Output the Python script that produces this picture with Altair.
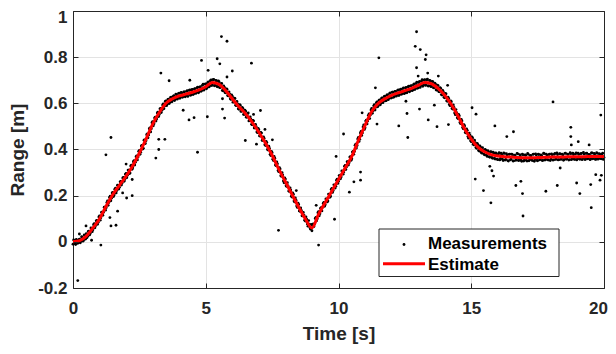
import altair as alt
import pandas as pd

# ---------------- data ----------------
# dense measurements, first set: one every 0.05 s from t = 0 to t = 20
BAND_STEP = 0.05
BAND_Y = [
    -0.010, 0.004, -0.012, 0.006, -0.004,
    0.012, 0.002, 0.020, 0.008, 0.013,
    0.035, 0.024, 0.046, 0.036, 0.058,
    0.052, 0.079, 0.070, 0.093, 0.085,
    0.112, 0.104, 0.125, 0.128, 0.150,
    0.148, 0.177, 0.170, 0.198, 0.189,
    0.214, 0.203, 0.232, 0.222, 0.244,
    0.236, 0.262, 0.255, 0.279, 0.270,
    0.296, 0.288, 0.310, 0.298, 0.332,
    0.321, 0.352, 0.345, 0.372, 0.367,
    0.396, 0.388, 0.418, 0.405, 0.441,
    0.438, 0.468, 0.463, 0.494, 0.490,
    0.521, 0.512, 0.540, 0.532, 0.562,
    0.552, 0.578, 0.570, 0.597, 0.588,
    0.611, 0.596, 0.618, 0.605, 0.627,
    0.613, 0.633, 0.618, 0.637, 0.624,
    0.644, 0.627, 0.645, 0.630, 0.650,
    0.633, 0.655, 0.640, 0.658, 0.637,
    0.660, 0.642, 0.664, 0.648, 0.670,
    0.650, 0.672, 0.657, 0.683, 0.664,
    0.684, 0.668, 0.693, 0.676, 0.701,
    0.680, 0.704, 0.678, 0.698, 0.672,
    0.694, 0.669, 0.686, 0.654, 0.670,
    0.646, 0.661, 0.632, 0.641, 0.617,
    0.631, 0.606, 0.621, 0.590, 0.598,
    0.574, 0.592, 0.566, 0.578, 0.552,
    0.566, 0.540, 0.558, 0.528, 0.531,
    0.507, 0.524, 0.498, 0.499, 0.473,
    0.486, 0.458, 0.471, 0.444, 0.448,
    0.417, 0.430, 0.398, 0.405, 0.374,
    0.386, 0.352, 0.362, 0.330, 0.338,
    0.304, 0.316, 0.284, 0.290, 0.256,
    0.272, 0.240, 0.242, 0.219, 0.225,
    0.194, 0.206, 0.173, 0.180, 0.149,
    0.162, 0.132, 0.136, 0.113, 0.116,
    0.090, 0.098, 0.068, 0.077, 0.055,
    0.048, 0.078, 0.077, 0.106, 0.100,
    0.131, 0.122, 0.148, 0.150, 0.171,
    0.161, 0.185, 0.177, 0.205, 0.198,
    0.231, 0.222, 0.246, 0.241, 0.272,
    0.262, 0.287, 0.281, 0.305, 0.302,
    0.331, 0.324, 0.346, 0.343, 0.369,
    0.360, 0.392, 0.391, 0.423, 0.417,
    0.452, 0.444, 0.478, 0.472, 0.506,
    0.494, 0.527, 0.523, 0.554, 0.549,
    0.578, 0.568, 0.594, 0.583, 0.606,
    0.590, 0.615, 0.601, 0.624, 0.610,
    0.631, 0.612, 0.637, 0.622, 0.645,
    0.624, 0.648, 0.630, 0.652, 0.636,
    0.658, 0.638, 0.661, 0.645, 0.667,
    0.645, 0.669, 0.652, 0.674, 0.655,
    0.677, 0.658, 0.684, 0.664, 0.692,
    0.668, 0.695, 0.677, 0.702, 0.680,
    0.703, 0.679, 0.705, 0.676, 0.698,
    0.673, 0.694, 0.668, 0.684, 0.657,
    0.677, 0.650, 0.665, 0.636, 0.649,
    0.624, 0.641, 0.609, 0.621, 0.590,
    0.607, 0.575, 0.582, 0.551, 0.560,
    0.534, 0.546, 0.512, 0.524, 0.490,
    0.502, 0.472, 0.483, 0.449, 0.462,
    0.434, 0.450, 0.420, 0.430, 0.405,
    0.421, 0.393, 0.410, 0.384, 0.398,
    0.377, 0.396, 0.370, 0.389, 0.366,
    0.390, 0.362, 0.384, 0.359, 0.381,
    0.356, 0.386, 0.361, 0.379, 0.352,
    0.383, 0.357, 0.376, 0.350, 0.380,
    0.358, 0.378, 0.351, 0.374, 0.355,
    0.381, 0.353, 0.372, 0.349, 0.377,
    0.354, 0.375, 0.350, 0.379, 0.356,
    0.373, 0.352, 0.380, 0.357, 0.376,
    0.351, 0.378, 0.358, 0.374, 0.353,
    0.382, 0.357, 0.376, 0.354, 0.380,
    0.358, 0.377, 0.355, 0.383, 0.359,
    0.378, 0.356, 0.381, 0.360, 0.376,
    0.357, 0.384, 0.359, 0.379, 0.356,
    0.382, 0.361, 0.378, 0.357, 0.385,
    0.360, 0.379, 0.358, 0.383, 0.362,
    0.380, 0.357, 0.384, 0.361, 0.378,
    0.359, 0.385, 0.362, 0.381, 0.358,
    0.383, 0.361, 0.379, 0.360, 0.384,
    0.365,
]

# dense measurements, second set: one every 0.05 s from t = 0.025 to t = 19.975
BAND2_START = 0.025
BAND2_Y = [
    0.008, -0.008, 0.010, -0.006, 0.009,
    -0.004, 0.022, 0.003, 0.030, 0.012,
    0.018, 0.045, 0.030, 0.060, 0.044,
    0.074, 0.061, 0.091, 0.076, 0.108,
    0.094, 0.128, 0.115, 0.150, 0.137,
    0.170, 0.158, 0.192, 0.178, 0.212,
    0.196, 0.228, 0.212, 0.245, 0.229,
    0.260, 0.246, 0.277, 0.262, 0.293,
    0.278, 0.311, 0.296, 0.329, 0.314,
    0.347, 0.333, 0.369, 0.355, 0.392,
    0.379, 0.415, 0.402, 0.440, 0.426,
    0.464, 0.451, 0.490, 0.476, 0.516,
    0.503, 0.537, 0.523, 0.558, 0.543,
    0.576, 0.560, 0.593, 0.577, 0.608,
    0.590, 0.617, 0.599, 0.626, 0.607,
    0.630, 0.612, 0.640, 0.618, 0.643,
    0.622, 0.647, 0.626, 0.649, 0.628,
    0.652, 0.630, 0.656, 0.635, 0.659,
    0.638, 0.663, 0.643, 0.668, 0.646,
    0.670, 0.652, 0.678, 0.657, 0.683,
    0.663, 0.690, 0.671, 0.698, 0.677,
    0.702, 0.676, 0.699, 0.673, 0.697,
    0.668, 0.685, 0.656, 0.675, 0.647,
    0.663, 0.634, 0.650, 0.620, 0.636,
    0.605, 0.622, 0.592, 0.608, 0.577,
    0.594, 0.565, 0.582, 0.552, 0.570,
    0.540, 0.556, 0.524, 0.541, 0.509,
    0.526, 0.493, 0.509, 0.476, 0.491,
    0.459, 0.474, 0.439, 0.455, 0.421,
    0.435, 0.400, 0.414, 0.379, 0.392,
    0.358, 0.370, 0.333, 0.346, 0.309,
    0.321, 0.286, 0.300, 0.264, 0.277,
    0.243, 0.256, 0.220, 0.234, 0.198,
    0.212, 0.177, 0.190, 0.155, 0.168,
    0.134, 0.147, 0.113, 0.127, 0.094,
    0.108, 0.077, 0.092, 0.061, 0.075,
    0.070, 0.066, 0.101, 0.091, 0.126,
    0.113, 0.146, 0.134, 0.166, 0.154,
    0.186, 0.173, 0.207, 0.193, 0.227,
    0.214, 0.247, 0.233, 0.267, 0.253,
    0.287, 0.273, 0.307, 0.293, 0.327,
    0.313, 0.347, 0.333, 0.367, 0.353,
    0.389, 0.379, 0.418, 0.406, 0.446,
    0.435, 0.472, 0.461, 0.498, 0.487,
    0.523, 0.511, 0.548, 0.534, 0.571,
    0.557, 0.589, 0.571, 0.602, 0.585,
    0.613, 0.594, 0.622, 0.603, 0.630,
    0.611, 0.636, 0.616, 0.643, 0.623,
    0.648, 0.626, 0.652, 0.631, 0.656,
    0.634, 0.659, 0.639, 0.664, 0.642,
    0.667, 0.646, 0.672, 0.650, 0.676,
    0.655, 0.681, 0.660, 0.686, 0.665,
    0.690, 0.669, 0.696, 0.674, 0.700,
    0.678, 0.701, 0.675, 0.699, 0.673,
    0.695, 0.667, 0.687, 0.659, 0.679,
    0.651, 0.668, 0.638, 0.656, 0.626,
    0.643, 0.611, 0.627, 0.595, 0.611,
    0.578, 0.593, 0.558, 0.573, 0.538,
    0.552, 0.517, 0.530, 0.495, 0.508,
    0.474, 0.489, 0.456, 0.471, 0.438,
    0.454, 0.423, 0.440, 0.409, 0.426,
    0.396, 0.416, 0.388, 0.408, 0.380,
    0.400, 0.375, 0.395, 0.369, 0.391,
    0.366, 0.388, 0.361, 0.385, 0.358,
    0.381, 0.355, 0.384, 0.358, 0.385,
    0.354, 0.382, 0.352, 0.379, 0.355,
    0.380, 0.350, 0.376, 0.353, 0.383,
    0.352, 0.378, 0.355, 0.380, 0.350,
    0.377, 0.353, 0.383, 0.351, 0.374,
    0.355, 0.379, 0.349, 0.381, 0.353,
    0.380, 0.355, 0.377, 0.352, 0.384,
    0.354, 0.380, 0.356, 0.378, 0.352,
    0.381, 0.354, 0.379, 0.357, 0.385,
    0.355, 0.382, 0.357, 0.380, 0.353,
    0.383, 0.358, 0.380, 0.354, 0.386,
    0.356, 0.384, 0.358, 0.381, 0.355,
    0.384, 0.359, 0.382, 0.356, 0.387,
    0.357, 0.383, 0.360, 0.379, 0.356,
    0.385, 0.360, 0.383, 0.357, 0.386,
    0.358, 0.382, 0.361, 0.380, 0.357,
]

# outlying measurements (time, range)
OUT_T = [0.18, 0.24, 0.49, 0.70, 1.05, 1.24, 1.43, 1.39, 1.43, 1.62,
         1.68, 1.87, 2.02, 2.23, 2.23, 2.00, 3.12, 3.23, 3.46, 3.23,
         3.31, 3.62, 4.15, 4.37, 4.56, 4.40, 4.69, 4.84, 5.06, 5.09,
         5.59, 5.80, 5.43, 5.53, 6.00, 6.72, 5.80, 5.63, 5.63, 5.71,
         7.06, 6.80, 7.23, 7.51, 6.49, 6.91, 7.74, 8.41, 9.25, 9.16,
         9.85, 10.19, 9.91, 10.41, 10.58, 10.83, 10.83, 10.89, 11.45, 11.52,
         11.39, 12.27, 12.61, 12.58, 12.94, 12.89, 13.08, 13.30, 13.27, 12.94,
         13.00, 13.36, 13.76, 14.11, 12.54, 13.05, 13.61, 13.38, 13.71, 14.14,
         15.03, 15.18, 15.89, 16.34, 16.59, 18.08, 15.15, 15.46, 15.74, 15.70,
         15.78, 15.84, 16.68, 16.87, 16.93, 16.95, 17.81, 18.24, 18.35, 18.75,
         18.75, 18.77, 19.03, 19.44, 18.97, 19.09, 19.50, 19.52, 19.69, 19.85,
         19.90, 19.88]
OUT_Y = [-0.168, 0.034, 0.069, 0.007, -0.014, 0.377, 0.452, 0.105, 0.069, 0.072,
         0.133, 0.212, 0.190, 0.200, 0.270, 0.337, 0.363, 0.400, 0.444, 0.444,
         0.731, 0.698, 0.570, 0.528, 0.538, 0.700, 0.388, 0.786, 0.542, 0.743,
         0.889, 0.869, 0.793, 0.771, 0.740, 0.774, 0.714, 0.620, 0.575, 0.536,
         0.569, 0.552, 0.487, 0.442, 0.439, 0.423, 0.050, 0.222, -0.014, 0.158,
         0.098, 0.467, 0.370, 0.215, 0.260, 0.267, 0.302, 0.559, 0.510, 0.797,
         0.667, 0.502, 0.452, 0.556, 0.910, 0.847, 0.833, 0.810, 0.790, 0.754,
         0.718, 0.731, 0.718, 0.678, 0.609, 0.575, 0.592, 0.528, 0.499, 0.508,
         0.581, 0.553, 0.502, 0.456, 0.477, 0.606, 0.272, 0.222, 0.169, 0.327,
         0.308, 0.285, 0.244, 0.262, 0.209, 0.112, 0.219, 0.244, 0.320, 0.496,
         0.456, 0.420, 0.434, 0.420, 0.255, 0.209, 0.248, 0.148, 0.291, 0.267,
         0.288, 0.549]

# filter estimate, one value every 0.25 s
EST_STEP = 0.25
EST_Y = [0.000, 0.005, 0.025, 0.060, 0.100, 0.155, 0.205, 0.245, 0.285, 0.330,
         0.385, 0.445, 0.510, 0.560, 0.600, 0.620, 0.632, 0.640, 0.648, 0.658,
         0.672, 0.690, 0.682, 0.655, 0.620, 0.585, 0.555, 0.518, 0.475, 0.428,
         0.375, 0.315, 0.260, 0.205, 0.150, 0.100, 0.060, 0.120, 0.170, 0.220,
         0.270, 0.320, 0.370, 0.440, 0.505, 0.565, 0.600, 0.620, 0.635, 0.645,
         0.655, 0.665, 0.678, 0.690, 0.685, 0.665, 0.635, 0.595, 0.545, 0.490,
         0.445, 0.410, 0.390, 0.378, 0.372, 0.369, 0.367, 0.365, 0.364, 0.364,
         0.365, 0.366, 0.367, 0.368, 0.368, 0.369, 0.369, 0.369, 0.370, 0.370,
         0.370]

X_TICKS = [0, 5, 10, 15, 20]
Y_TICKS = [-0.2, 0, 0.2, 0.4, 0.6, 0.8, 1]
LEGEND_LABELS = ["Measurements", "Estimate"]

# ---------------- tables ----------------
meas = pd.DataFrame({
    "t": [round(i * BAND_STEP, 3) for i in range(len(BAND_Y))]
         + [round(BAND2_START + i * BAND_STEP, 3) for i in range(len(BAND2_Y))]
         + OUT_T,
    "y": BAND_Y + BAND2_Y + OUT_Y,
})
est = pd.DataFrame({
    "t": [round(i * EST_STEP, 2) for i in range(len(EST_Y))],
    "y": EST_Y,
})

FONT = "Liberation Sans"
INK = "#262626"
GRID = "#e3e3e3"
xs = alt.Scale(domain=[0, 20], nice=False, zero=False)
ys = alt.Scale(domain=[-0.2, 1], nice=False, zero=False)

Y_LABEL_EXPR = ("datum.value < 0 ? '-' + format(-datum.value, '.1f') : "
                "(abs(datum.value) < 1e-9 || datum.value == 1) ? format(datum.value, 'd') : "
                "format(datum.value, '.1f')")

x_main = alt.Axis(orient="bottom", values=X_TICKS, title="Time [s]", grid=True,
                  gridColor=GRID, gridWidth=1, ticks=False, tickSize=0, domain=True,
                  domainColor=INK, domainWidth=1, labelFont=FONT,
                  labelFontWeight="bold", labelFontSize=17, labelColor=INK,
                  labelPadding=12, labelFlush=False, labelOverlap=False,
                  labelOffset={"condition": {"test": "datum.value == 20", "value": -6},
                               "value": 0},
                  format="d", titleFont=FONT, titleFontWeight="bold",
                  titleFontSize=19, titleColor=INK, titlePadding=8)
y_main = alt.Axis(orient="left", values=Y_TICKS, title="Range [m]", grid=True,
                  gridColor=GRID, gridWidth=1, ticks=False, tickSize=0, domain=True,
                  domainColor=INK, domainWidth=1, labelFont=FONT,
                  labelFontWeight="bold", labelFontSize=17, labelColor=INK,
                  labelPadding=6, labelFlush=False, labelOverlap=False,
                  labelOffset={"condition": {"test": "datum.value == 1", "value": 6},
                               "value": 0},
                  labelExpr=Y_LABEL_EXPR, titleFont=FONT, titleFontWeight="bold",
                  titleFontSize=19, titleColor=INK, titlePadding=10)


def tick_axis(orient, values):
    return alt.Axis(orient=orient, values=values, offset=-5, ticks=True, tickSize=5,
                    tickColor=INK, tickWidth=1, domain=False, labels=False,
                    grid=False, title="", zindex=1)


def box_axis(orient, values):
    return alt.Axis(orient=orient, values=values, ticks=False, domain=True,
                    domainColor=INK, domainWidth=1, labels=False, grid=False,
                    title="", zindex=1)


points = alt.Chart(meas).mark_circle(size=8, color="black", opacity=1).encode(
    x=alt.X("t:Q", scale=xs, axis=x_main),
    y=alt.Y("y:Q", scale=ys, axis=y_main),
)

line = alt.Chart(est).mark_line(color="#ff0000", strokeWidth=3,
                                interpolate="monotone").encode(
    x=alt.X("t:Q", scale=xs, axis=tick_axis("bottom", X_TICKS)),
    y=alt.Y("y:Q", scale=ys, axis=tick_axis("left", Y_TICKS)),
)

box = alt.Chart(est).mark_line(opacity=0).encode(
    x=alt.X("t:Q", scale=xs, axis=box_axis("top", X_TICKS)),
    y=alt.Y("y:Q", scale=ys, axis=box_axis("right", Y_TICKS)),
)

box_ticks = alt.Chart(est).mark_line(opacity=0).encode(
    x=alt.X("t:Q", scale=xs, axis=tick_axis("top", X_TICKS)),
    y=alt.Y("y:Q", scale=ys, axis=tick_axis("right", Y_TICKS)),
)

# ---------------- legend (drawn in the plot's pixel frame) ----------------
leg1 = pd.DataFrame({"label": [LEGEND_LABELS[0]]})
leg2 = pd.DataFrame({"label": [LEGEND_LABELS[1]]})

leg_frame = alt.Chart(leg1).mark_rect(fill="white", stroke=INK, strokeWidth=1).encode(
    x=alt.value(306), x2=alt.value(486), y=alt.value(218), y2=alt.value(265.5))
leg_dot = alt.Chart(leg1).mark_circle(size=8, color="black", opacity=1).encode(
    x=alt.value(331), y=alt.value(233.5))
leg_line = alt.Chart(leg2).mark_rule(color="#ff0000", strokeWidth=3).encode(
    x=alt.value(310), x2=alt.value(352), y=alt.value(252.7))
leg_txt1 = alt.Chart(leg1).mark_text(align="left", baseline="alphabetic", font=FONT,
                                     fontWeight="bold", fontSize=17, color="black").encode(
    x=alt.value(355), y=alt.value(237.7), text="label:N")
leg_txt2 = alt.Chart(leg2).mark_text(align="left", baseline="alphabetic", font=FONT,
                                     fontWeight="bold", fontSize=17, color="black").encode(
    x=alt.value(355), y=alt.value(259.4), text="label:N")

chart = alt.layer(
    points, line, box, box_ticks,
    leg_frame, leg_dot, leg_line, leg_txt1, leg_txt2,
).resolve_axis(
    x="independent", y="independent"
).properties(
    width=531, height=277,
    padding={"left": 65, "top": 3, "right": 4, "bottom": 58},
    autosize=alt.AutoSizeParams(type="none"),
    background="white",
).configure_view(stroke="transparent")

chart.save("out.html", embed_options={"renderer": "svg", "actions": False})
